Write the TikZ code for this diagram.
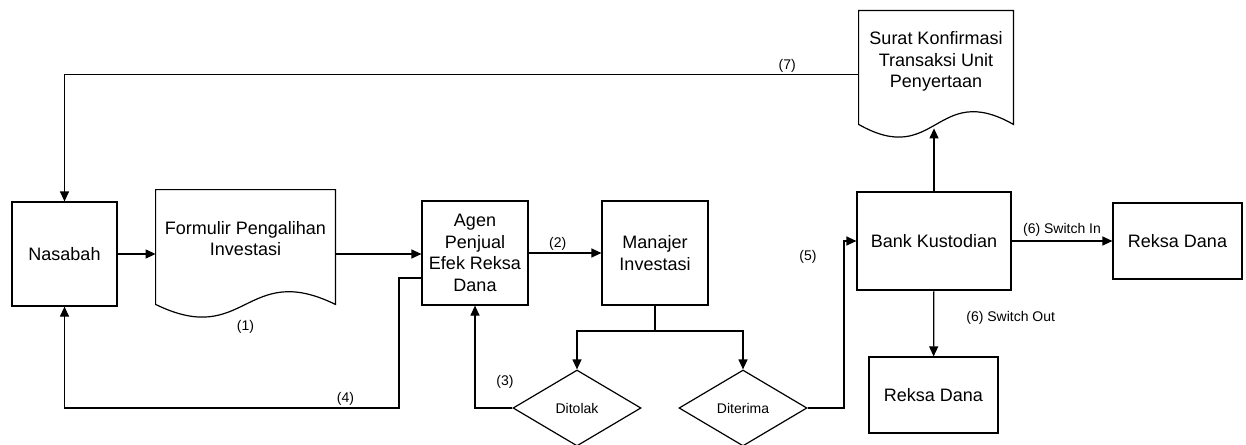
\documentclass[tikz,border=0pt]{standalone}
\usepackage{fontspec}
\setmainfont{Liberation Sans}
\usetikzlibrary{shapes.geometric,arrows.meta}

\tikzset{
  flow/.style={line width=0.6pt},
  arr/.style={flow, -{Triangle[length=5pt,width=4.5pt]}},
  box/.style={draw, flow, inner sep=1pt, align=center,
    font=\fontsize{9}{10.75}\selectfont},
  docbox/.style={rectangle, draw=none, inner sep=0pt},
  txt/.style={align=center, inner sep=1pt, font=\fontsize{9}{10.75}\selectfont},
  decision/.style={diamond, draw, flow, aspect=1.68, inner sep=0pt,
    minimum width=64pt, minimum height=38pt, font=\fontsize{7}{8.5}\selectfont},
  lbl/.style={inner sep=1pt, font=\fontsize{7}{8.5}\selectfont}
}

% wavy bottom of a document symbol
\newcommand{\docline}[1]{%
  \draw[flow] (#1.north west) -- (#1.north east) -- ([yshift=7pt]#1.south east)
    .. controls ([yshift=29pt]#1.south) and ([yshift=-15pt]#1.south) ..
    ([yshift=7pt]#1.south west) -- cycle;}

\begin{document}
\begin{tikzpicture}[x=0.5pt,y=-0.5pt]
  \useasboundingbox (0,0) rectangle (1246,444);

  \node[box, minimum width=52.5pt, minimum height=52pt] (nasabah) at (64.5,254) {Nasabah};
  \node[docbox, minimum width=89.5pt, minimum height=64pt] (form) at (245.5,254) {};
  \node[txt] (formtxt) at ([yshift=7.75pt]form.center) {Formulir Pengalihan\\Investasi};
  \node[box, minimum width=53pt, minimum height=52pt] (agen) at (475,253) {Agen\\Penjual\\Efek Reksa\\Dana};
  \node[box, minimum width=53pt, minimum height=52pt] (manajer) at (655,253) {Manajer\\Investasi};
  \node[decision] (ditolak) at (577,408) {Ditolak};
  \node[decision] (diterima) at (743,408) {Diterima};
  \node[box, minimum width=77pt, minimum height=49pt] (bank) at (934,241) {Bank Kustodian};
  \node[docbox, minimum width=77pt, minimum height=63.5pt] (surat) at (936,74.5) {};
  \node[txt] (surattxt) at ([yshift=6.5pt]surat.center) {Surat Konfirmasi\\Transaksi Unit\\Penyertaan};
  \node[box, minimum width=64.5pt, minimum height=38pt] (reksain) at (1177.5,241) {Reksa Dana};
  \node[box, minimum width=64.5pt, minimum height=38pt] (reksaout) at (933.5,395) {Reksa Dana};

  \docline{form}
  \docline{surat}

  \node[lbl, below] (lbl1) at (form.south) {(1)};

  \coordinate (c4) at (399,408);
  \coordinate (split) at (655,331);
  \coordinate (c5) at (844,241);
  \coordinate (s7) at ([yshift=5pt]surat.south);

  \draw[arr] (nasabah) -- (form);
  \draw[arr] (form.east) -- (form.east -| agen.west);
  \draw[arr] (agen) -- node[lbl, above, pos=0.4] (lbl2) {(2)} (manajer);
  \draw[arr] ([yshift=-12.5pt]agen.west) -| (c4) -| node[lbl, above, pos=0.08] (lbl4) {(4)} (nasabah.south);
  \draw[flow] (manajer.south) -- (split);
  \draw[arr] (split) -| (ditolak.north);
  \draw[arr] (split) -| (diterima.north);
  \draw[arr] (ditolak.west) -| (agen.south);
  \node[lbl] (lbl3) at (505,382) {(3)};
  \draw[arr] (diterima.east) -| (c5) -- (bank.west);
  \node[lbl] (lbl5) at (808,257) {(5)};
  \draw[arr] (bank.north) -- (bank.north |- s7);
  \draw[arr] (surat.west) -| node[lbl, above, pos=0.045] (lbl7) {(7)} (nasabah.north);
  \draw[arr] (bank) -- node[lbl, above, yshift=1pt] (lbl6a) {(6) Switch In} (reksain);
  \draw[arr] (bank) -- node[lbl, anchor=west, xshift=15pt, pos=0.42] (lbl6b) {(6) Switch Out} (reksaout);
\end{tikzpicture}
\end{document}
